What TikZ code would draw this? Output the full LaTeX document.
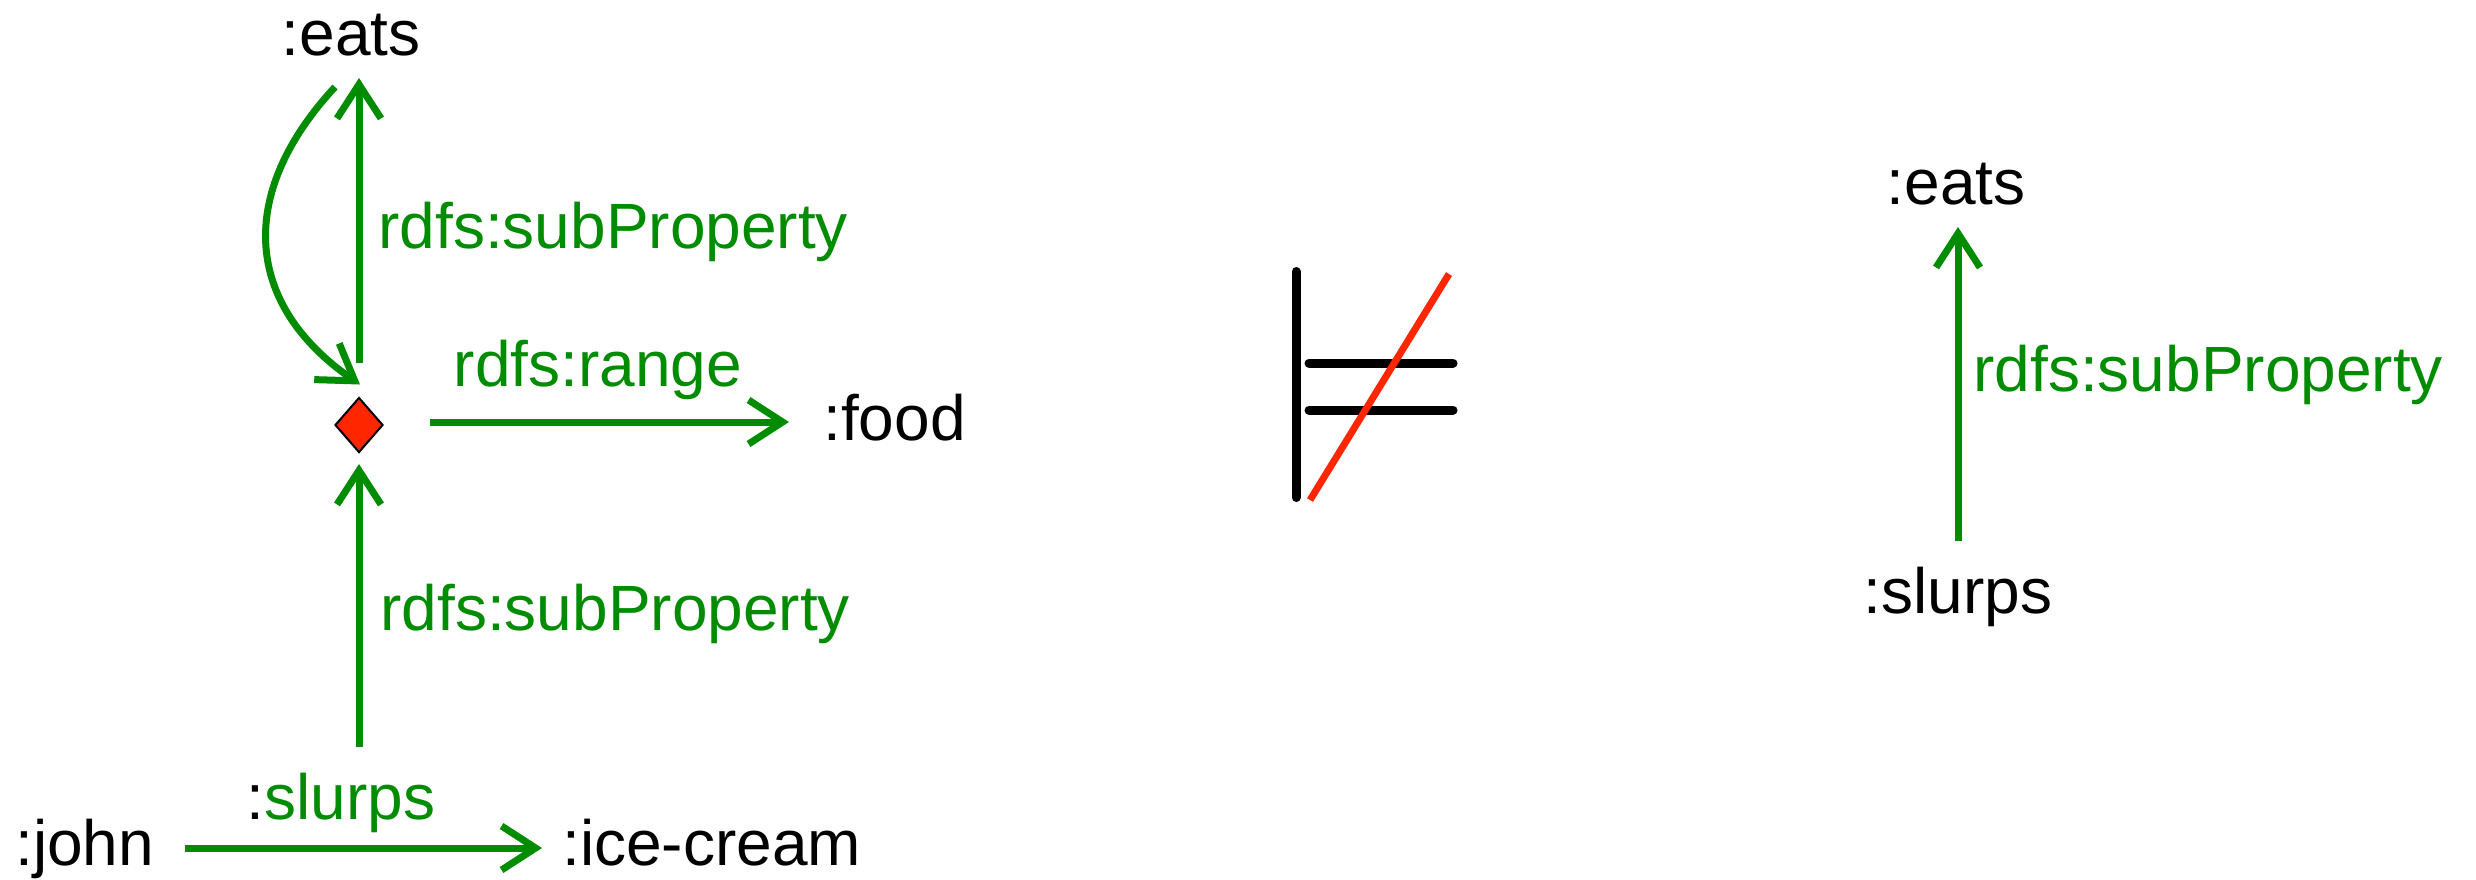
\documentclass[tikz,border=0pt]{standalone}
\usepackage{fontspec}
\setmainfont{Liberation Sans}
\usetikzlibrary{arrows.meta,calc,shapes.geometric}
\definecolor{rgreen}{HTML}{008C00}
\definecolor{rred}{HTML}{FF2600}
\tikzset{
  lbl/.style={inner sep=0pt, font=\fontsize{32}{38}\selectfont},
  glbl/.style={lbl, text=rgreen},
  arr/.style={draw=rgreen, line width=3.5pt, -{Straight Barb[length=17pt,width=22pt]}},
  dmd/.style={diamond, draw=black, fill=rred, line width=1pt, minimum width=24pt, minimum height=27.5pt, inner sep=0pt, aspect=1},
  bar/.style={line width=4.5pt, line cap=round},
}
\begin{document}
\begin{tikzpicture}[x=0.5pt,y=-0.5pt]
\useasboundingbox (0,0) rectangle (2476,879);
% left part
\node[lbl, anchor=base] (eatsL) at (351,55) {:eats};
\node[dmd] (dia) at (359,425) {};
\node[glbl, anchor=base west] (subA) at (378,248) {rdfs:subProperty};
\node[glbl, anchor=base] (range) at (598,386) {rdfs:range};
\node[lbl, anchor=base west] (food) at (823,440) {:food};
\node[glbl, anchor=base west] (subB) at (380,630) {rdfs:subProperty};
\node[lbl, anchor=base] (slurpsB) at (341,819) {:\textcolor{rgreen}{slurps}};
\node[lbl, anchor=base west] (john) at (15,865) {:john};
\node[lbl, anchor=base west] (icecream) at (562,865) {:ice-cream};
% connectors
\draw[arr] ($(dia.north)+(0,17pt)$) -- ($(dia.north |- eatsL.base)+(0,-11.5pt)$);
\draw[arr] ($(eatsL.base)+(-8pt,-16pt)$) .. controls (235,195) and (245,305) .. ($(dia.north)+(0.5pt,6pt)$);
\draw[arr] ($(dia.east)+(23pt,1.5pt)$) -- ($(food.base west)+(-17pt,9pt)$);
\draw[arr] ($(dia.south |- slurpsB.base)+(0,36pt)$) -- ($(dia.south)+(0,-5.25pt)$);
\draw[arr] ($(john.base east)+(15pt,8.5pt)$) -- ($(icecream.base west)+(-10pt,8.5pt)$);
% not-entails symbol
\draw[bar] (1296,271.5) -- (1296,497.5);
\draw[bar] (1309,363) -- (1453,363);
\draw[bar] (1309,410) -- (1453,410);
\draw[draw=rred, line width=3.5pt] (1310,500) -- (1449,274);
% right part
\node[lbl, anchor=base] (eatsR) at (1956,204) {:eats};
\node[glbl, anchor=base west] (subR) at (1973,391) {rdfs:subProperty};
\node[lbl, anchor=base] (slurpsR) at (1958,613) {:slurps};
\draw[arr] ($(slurpsR.base)+(0,36pt)$) -- ($(slurpsR.base |- eatsR.base)+(0,-11.5pt)$);
\end{tikzpicture}
\end{document}
